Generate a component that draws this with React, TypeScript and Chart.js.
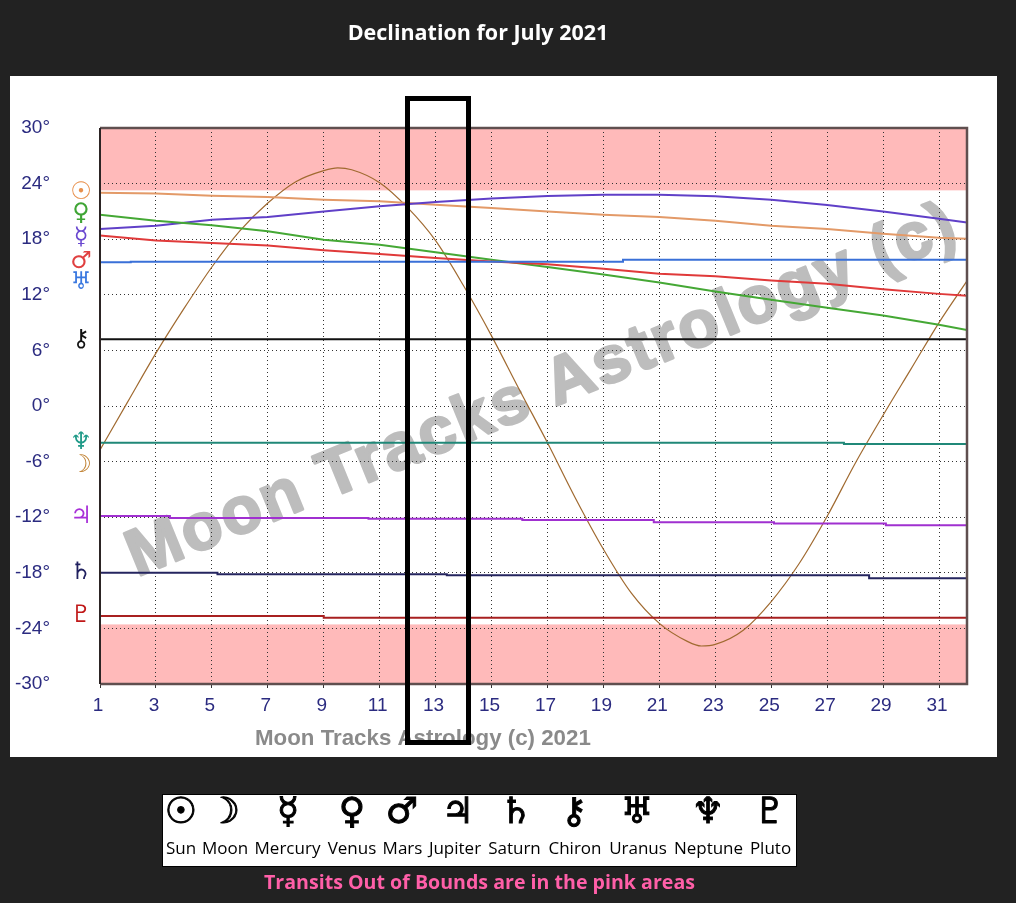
import React, { useEffect, useRef } from "react";
import { Chart, registerables } from "chart.js";

Chart.register(...registerables);

const titleText = "Declination for July 2021";
const captionText = "Moon Tracks Astrology (c) 2021";
const watermarkText = "Moon Tracks Astrology (c)";
const footerText = "Transits Out of Bounds are in the pink areas";

const dayTicks = [1, 3, 5, 7, 9, 11, 13, 15, 17, 19, 21, 23, 25, 27, 29, 31];
const degreeStep = 6;
const upperBoundary = 23.27;
const lowerBoundary = -23.57;

const oddDays = [1, 3, 5, 7, 9, 11, 13, 15, 17, 19, 21, 23, 25, 27, 29, 31, 32];
const sunValues = [23.0, 22.92, 22.7, 22.56, 22.27, 22.09, 21.72, 21.37, 21.0, 20.65, 20.4, 20.0, 19.46, 19.1, 18.6, 18.16, 18.05];
const mercuryValues = [19.1, 19.46, 20.1, 20.4, 21.0, 21.55, 22.02, 22.38, 22.67, 22.8, 22.8, 22.63, 22.27, 21.7, 21.0, 20.2, 19.8];
const venusValues = [20.65, 20.0, 19.5, 18.85, 17.95, 17.4, 16.6, 15.78, 15.0, 14.2, 13.33, 12.35, 11.46, 10.6, 9.76, 8.76, 8.2];
const marsValues = [18.4, 17.87, 17.6, 17.33, 16.8, 16.4, 15.97, 15.6, 15.3, 14.8, 14.27, 14.0, 13.55, 13.2, 12.6, 12.1, 11.9];

const moonDays = [1, 2, 3, 4, 5, 6, 7, 8, 9, 9.5, 10, 11, 12, 13, 14, 15, 16, 17, 18, 19, 20, 21, 22, 22.5, 23, 24, 25, 26, 27, 28, 29, 30, 31, 32];
const moonValues = [-4.75, 0.5, 5.7, 10.5, 15.0, 18.9, 21.9, 24.2, 25.4, 25.7, 25.5, 24.1, 21.4, 17.84, 12.97, 7.57, 1.73, -3.97, -9.95, -15.46, -20.2, -23.46, -25.4, -25.9, -25.73, -24.2, -21.1, -17.0, -11.9, -6.2, -1.0, 4.0, 9.0, 13.5];

const uranusDays = [1, 2.1, 19.7, 32];
const uranusValues = [15.5, 15.57, 15.78, 15.78];
const chironDays = [1, 32];
const chironValues = [7.2, 7.2];
const neptuneDays = [1, 27.6, 32];
const neptuneValues = [-3.97, -4.11, -4.11];
const jupiterDays = [1, 3.5, 10.6, 16.1, 20.8, 25.1, 29.1, 32];
const jupiterValues = [-11.87, -12.08, -12.18, -12.3, -12.54, -12.68, -12.86, -12.86];
const saturnDays = [1, 5.2, 13.4, 28.5, 32];
const saturnValues = [-18.0, -18.16, -18.27, -18.6, -18.6];
const plutoDays = [1, 9, 32];
const plutoValues = [-22.67, -22.85, -22.85];

const sideGlyphs = ["☉", "♀", "☿", "♂", "♅", "⚷", "♆", "☽", "♃", "♄", "♇"];
const sideGlyphColors = ["#e8904c", "#3fa535", "#6a48d0", "#e04040", "#3a78e0", "#111111", "#1f9a88", "#c08030", "#a830d8", "#20205f", "#c01818"];
const sideGlyphDegrees = [23.03, 20.76, 18.16, 15.57, 13.3, 7.14, -4.0, -6.49, -11.9, -17.95, -22.6];

const planetNames = ["Sun", "Moon", "Mercury", "Venus", "Mars", "Jupiter", "Saturn", "Chiron", "Uranus", "Neptune", "Pluto"];
const planetGlyphs = ["☉", "☽", "☿", "♀", "♂", "♃", "♄", "⚷", "♅", "♆", "♇"];

const pairs = (xs: number[], ys: number[]) => xs.map((x, i) => ({ x, y: ys[i] }));

const backdropPlugin = {
  id: "backdrop",
  beforeDraw(chart: any) {
    const { ctx, chartArea: a, scales } = chart;
    const y = scales.y;
    ctx.save();
    ctx.fillStyle = "#ffbaba";
    ctx.fillRect(a.left, a.top, a.right - a.left, y.getPixelForValue(upperBoundary) - a.top);
    const low = y.getPixelForValue(lowerBoundary);
    ctx.fillRect(a.left, low, a.right - a.left, a.bottom - low);
    ctx.translate(137, 577);
    ctx.rotate((-22.2 * Math.PI) / 180);
    ctx.font = "bold 66px 'Liberation Sans'";
    (ctx as any).letterSpacing = "2.5px";
    ctx.fillStyle = "#bdbdbd";
    ctx.strokeStyle = "#bdbdbd";
    ctx.lineWidth = 2.5;
    ctx.lineJoin = "round";
    ctx.textBaseline = "alphabetic";
    ctx.fillText(watermarkText, 0, 0);
    ctx.strokeText(watermarkText, 0, 0);
    (ctx as any).letterSpacing = "0px";
    ctx.restore();
  },
  afterDraw(chart: any) {
    const { ctx, chartArea: a, scales } = chart;
    ctx.save();
    ctx.strokeStyle = "#5f4f4f";
    ctx.lineWidth = 2.5;
    ctx.beginPath();
    ctx.moveTo(a.left, a.top);
    ctx.lineTo(a.right, a.top);
    ctx.lineTo(a.right, a.bottom);
    ctx.lineTo(a.left, a.bottom);
    ctx.stroke();
    ctx.strokeStyle = "#2c2424";
    ctx.lineWidth = 2;
    ctx.beginPath();
    ctx.moveTo(a.left, a.top);
    ctx.lineTo(a.left, a.bottom);
    ctx.stroke();
    ctx.textAlign = "center";
    ctx.textBaseline = "middle";
    ctx.font = "24px 'DejaVu Sans'";
    sideGlyphs.forEach((g, i) => {
      ctx.fillStyle = sideGlyphColors[i];
      ctx.fillText(g, 81, scales.y.getPixelForValue(sideGlyphDegrees[i]));
    });
    ctx.textAlign = "left";
    ctx.font = "bold 22.3px 'Liberation Sans'";
    ctx.fillStyle = "#8a8a8a";
    ctx.fillText(captionText, 255, 739);
    ctx.restore();
  },
};

const line = (label: string, data: any[], color: string, width: number, stepped: boolean, smooth = false) => ({
  label,
  data,
  borderColor: color,
  borderWidth: width,
  pointRadius: 0,
  stepped,
  cubicInterpolationMode: smooth ? "monotone" : "default",
  tension: smooth ? 0.4 : 0,
  fill: false,
});

const tickFont = { family: "'Liberation Sans'", size: 19 };

function DeclinationChart() {
  const ref = useRef<HTMLCanvasElement>(null);
  useEffect(() => {
    const chart = new Chart(ref.current as HTMLCanvasElement, {
      type: "line",
      data: {
        datasets: [
          line("Pluto", pairs(plutoDays, plutoValues), "#a82020", 2, true),
          line("Saturn", pairs(saturnDays, saturnValues), "#25255f", 2, true),
          line("Jupiter", pairs(jupiterDays, jupiterValues), "#a030d0", 2, true),
          line("Neptune", pairs(neptuneDays, neptuneValues), "#208878", 2, true),
          line("Chiron", pairs(chironDays, chironValues), "#111111", 2, false),
          line("Uranus", pairs(uranusDays, uranusValues), "#3a70d8", 2, true),
          line("Mars", pairs(oddDays, marsValues), "#e03a3a", 2, false),
          line("Venus", pairs(oddDays, venusValues), "#45a835", 2, false),
          line("Mercury", pairs(oddDays, mercuryValues), "#6040c8", 2, false),
          line("Sun", pairs(oddDays, sunValues), "#e39a68", 2, false),
          line("Moon", pairs(moonDays, moonValues), "#a06a30", 1.2, false, true),
        ],
      },
      options: {
        animation: false,
        responsive: false,
        layout: { padding: { left: 0, right: 49, top: 128, bottom: 0 } },
        plugins: { legend: { display: false }, tooltip: { enabled: false }, title: { display: false } },
        scales: {
          x: {
            type: "linear",
            min: 1,
            max: 32,
            afterFit: (s: any) => { s.height = 219; },
            afterBuildTicks: (s: any) => { s.ticks = dayTicks.map((value) => ({ value })); },
            ticks: { color: "#2b2b80", font: tickFont, maxRotation: 0, autoSkip: false, padding: 6, labelOffset: -2 },
            grid: { color: "#333333", lineWidth: 1, tickLength: 4, tickColor: "#333333" },
            border: { dash: [1, 3], display: false },
          },
          y: {
            min: -30,
            max: 30,
            afterFit: (s: any) => { s.width = 100; },
            ticks: { stepSize: degreeStep, color: "#2b2b80", font: tickFont, padding: 50, callback: (v: any) => `${v}°` },
            grid: { color: "#333333", lineWidth: 1, drawTicks: false },
            border: { dash: [1, 3], display: false },
          },
        },
      } as any,
      plugins: [backdropPlugin],
    } as any);
    return () => chart.destroy();
  }, []);
  return <canvas ref={ref} width={1016} height={903} style={{ position: "absolute", left: 0, top: 0, display: "block" }} />;
}

const labelLefts = [165, 201, 253, 326, 382, 427, 487, 546, 608, 672, 749];
const labelWidths = [32, 48, 69, 52, 41, 56, 55, 58, 60, 73, 43];
const glyphCentres = [181, 224, 288, 352, 402, 458, 516, 574, 637, 708, 770];

const abs = (left: number, top: number): React.CSSProperties => ({ position: "absolute", left, top, whiteSpace: "nowrap" });

export default function App() {
  return (
    <div style={{ position: "absolute", left: 0, top: 0, width: 1016, height: 903, background: "#222222", overflow: "hidden" }}>
      <div style={{ ...abs(10, 76), width: 987, height: 681, background: "#ffffff" }} />
      <DeclinationChart />
      <div style={{ ...abs(405, 96), width: 66, height: 649, border: "5px solid #000", boxSizing: "border-box" }} />
      <div style={{ ...abs(338, 17), font: "bold 21.5px 'Open Sans'", color: "#fff", width: 280, textAlign: "center" }}>{titleText}</div>
      <div style={{ ...abs(162, 794), width: 635, height: 73, background: "#fff", border: "1px solid #000", boxSizing: "border-box" }} />
      {planetGlyphs.map((g, i) => (
        <div key={g} style={{ ...abs(glyphCentres[i] - 30, 790), width: 60, textAlign: "center", font: "36px 'DejaVu Sans'", color: "#000", WebkitTextStroke: "1px #000" }}>{g}</div>
      ))}
      {planetNames.map((n, i) => (
        <div key={n} style={{ ...abs(labelLefts[i], 836), width: labelWidths[i], textAlign: "center", font: "17px 'Open Sans'", color: "#000" }}>{n}</div>
      ))}
      <div style={{ ...abs(254, 868), width: 451, textAlign: "center", font: "bold 19.6px 'Open Sans'", color: "#ff5fa8" }}>{footerText}</div>
    </div>
  );
}
